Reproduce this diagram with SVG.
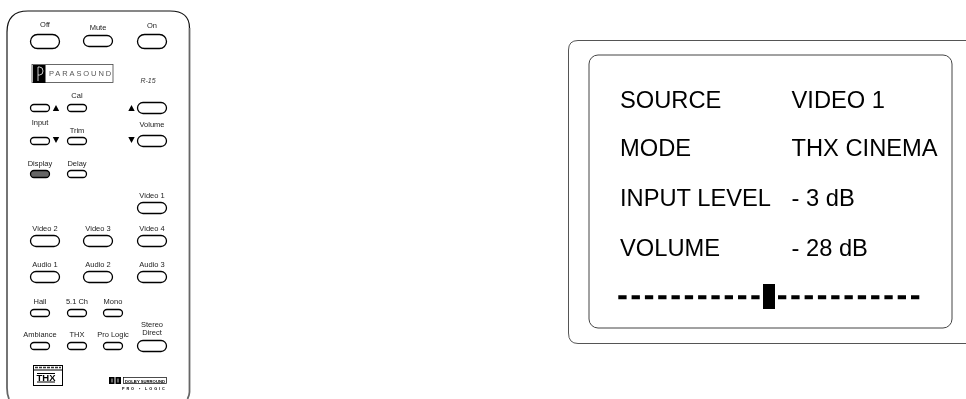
<svg xmlns="http://www.w3.org/2000/svg" width="966" height="399" viewBox="0 0 966 399">
<style>
.b{fill:#fff;stroke:#000;stroke-width:1.3}
.l{font:7.5px "Liberation Sans",Arial,sans-serif;fill:#222;text-anchor:middle}
.t{font:23.7px "Liberation Sans",Arial,sans-serif;fill:#000}
</style>
<defs>
<filter id="soft" x="0" y="0" width="966" height="399" filterUnits="userSpaceOnUse" color-interpolation-filters="sRGB"><feGaussianBlur stdDeviation=".3"/></filter>
<filter id="gray" x="0" y="0" width="966" height="399" filterUnits="userSpaceOnUse" color-interpolation-filters="sRGB"><feOffset dx="0" dy="0"/></filter>
</defs>
<rect width="966" height="399" fill="#fff"/>
<g id="remote" filter="url(#soft)">
<path fill="none" stroke="#666" stroke-width="1.800" d="M7 32V388Q7 394 9 399M189.500 28V392Q189.500 395 187.500 399"/>
<path fill="none" stroke="#111" stroke-width="1.200" d="M7 32Q7 11 28 11H170Q189.500 11 189.500 28"/>
<g id="power">
<rect class="b" x="30.500" y="34.500" width="29" height="14" rx="7"/><text class="l" x="45" y="27">Off</text>
<rect class="b" x="83.500" y="35.500" width="29" height="11" rx="5.500"/><text class="l" x="98" y="30">Mute</text>
<rect class="b" x="137.500" y="34.500" width="29" height="14" rx="7"/><text class="l" x="152" y="28">On</text>
</g>
<g id="logo">
<rect x="32" y="64.500" width="81" height="18" fill="#fff" stroke="#444" stroke-width=".8"/>
<rect x="33" y="65" width="12.500" height="18" fill="#000"/>
<path d="M38 67V81M38 67H39.500Q43 67 43 71T39.500 75H38" fill="none" stroke="#fff" stroke-width=".8"/>
<text x="49" y="76" font-family="Liberation Sans,Arial,sans-serif" font-size="7.500" letter-spacing="1.900" fill="#555">PARASOUND</text>
<text x="148" y="83" font-family="Liberation Sans,Arial,sans-serif" font-size="7" font-style="italic" text-anchor="middle" fill="#333">R-15</text>
</g>
<g id="input-trim">
<rect class="b" x="30.500" y="104.500" width="19" height="7" rx="3.500"/><path d="M56 105l3.200 6h-6.400zM56 143l3.200-6h-6.400z"/>
<text class="l" x="40" y="125">Input</text>
<rect class="b" x="30.500" y="137.500" width="19" height="7" rx="3.500"/>
<rect class="b" x="67.500" y="104.500" width="19" height="7" rx="3.500"/><text class="l" x="77" y="98">Cal</text>
<rect class="b" x="67.500" y="137.500" width="19" height="7" rx="3.500"/><text class="l" x="77" y="133">Trim</text>
</g>
<g id="volume">
<rect class="b" x="137.500" y="102.500" width="29" height="11" rx="5.500"/><path d="M131.500 105l3.200 6h-6.400zM131.500 143l3.200-6h-6.400z"/>
<text class="l" x="152" y="127">Volume</text>
<rect class="b" x="137.500" y="135.500" width="29" height="11" rx="5.500"/>
</g>
<g id="display-delay">
<rect x="30.500" y="170.500" width="19" height="7" rx="3.500" fill="#666" stroke="#000" stroke-width="1.300"/><text class="l" x="40" y="166">Display</text>
<rect class="b" x="67.500" y="170.500" width="19" height="7" rx="3.500"/><text class="l" x="77" y="166">Delay</text>
</g>
<g id="sources">
<rect class="b" x="137.500" y="202.500" width="29" height="11" rx="5.500"/><text class="l" x="152" y="198">Video 1</text>
<rect class="b" x="30.500" y="235.500" width="29" height="11" rx="5.500"/><text class="l" x="45" y="231">Video 2</text>
<rect class="b" x="83.500" y="235.500" width="29" height="11" rx="5.500"/><text class="l" x="98" y="231">Video 3</text>
<rect class="b" x="137.500" y="235.500" width="29" height="11" rx="5.500"/><text class="l" x="152" y="231">Video 4</text>
<rect class="b" x="30.500" y="271.500" width="29" height="11" rx="5.500"/><text class="l" x="45" y="267">Audio 1</text>
<rect class="b" x="83.500" y="271.500" width="29" height="11" rx="5.500"/><text class="l" x="98" y="267">Audio 2</text>
<rect class="b" x="137.500" y="271.500" width="29" height="11" rx="5.500"/><text class="l" x="152" y="267">Audio 3</text>
</g>
<g id="modes">
<rect class="b" x="30.500" y="309.500" width="19" height="7" rx="3.500"/><text class="l" x="40" y="304">Hall</text>
<rect class="b" x="67.500" y="309.500" width="19" height="7" rx="3.500"/><text class="l" x="77" y="304">5.1 Ch</text>
<rect class="b" x="103.500" y="309.500" width="19" height="7" rx="3.500"/><text class="l" x="113" y="304">Mono</text>
<rect class="b" x="30.500" y="342.500" width="19" height="7" rx="3.500"/><text class="l" x="40" y="337">Ambiance</text>
<rect class="b" x="67.500" y="342.500" width="19" height="7" rx="3.500"/><text class="l" x="77" y="337">THX</text>
<rect class="b" x="103.500" y="342.500" width="19" height="7" rx="3.500"/><text class="l" x="113" y="337">Pro Logic</text>
<rect class="b" x="137.500" y="340.500" width="29" height="11" rx="5.500"/><text class="l" x="152" y="327">Stereo</text><text class="l" x="152" y="335">Direct</text>
</g>
<g id="badges">
<rect x="33.500" y="365.500" width="29" height="20" fill="#fff" stroke="#000"/>
<path d="M33 370H63" stroke="#000"/><path d="M35 367.500H61" stroke="#333" stroke-width="1.500" stroke-dasharray="3 1"/>
<path d="M37 373.500H55M37 382H55" stroke="#000"/>
<text x="46" y="381" font-family="Liberation Sans,Arial,sans-serif" font-size="9.500" font-weight="bold" text-anchor="middle" fill="#000">THX</text>
<rect x="109" y="377" width="12" height="7" fill="#000"/><path d="M115 377V384" stroke="#fff"/><path d="M112 378.500V382.500M118 378.500V382.500" stroke="#fff" stroke-width=".8"/>
<rect x="123.500" y="377.500" width="43" height="6" fill="#fff" stroke="#000" stroke-width=".7"/>
<text x="145" y="382.500" font-family="Liberation Sans,Arial,sans-serif" font-size="4.200" font-weight="bold" text-anchor="middle" fill="#000">DOLBY SURROUND</text>
<text x="122" y="390" font-family="Liberation Sans,Arial,sans-serif" font-size="3.800" font-weight="bold" letter-spacing="1.900" fill="#000">PRO • LOGIC</text>
</g>
</g>
<g id="display" filter="url(#gray)">
<path fill="none" stroke="#555" stroke-width="1" d="M966 40.500H578Q568.500 40.500 568.500 50V333Q568.500 343.500 578 343.500H966"/>
<rect x="589" y="55" width="363" height="273" rx="9" fill="none" stroke="#444" stroke-width="1"/>
<text class="t" x="620" y="108">SOURCE</text><text class="t" x="791.500" y="108">VIDEO 1</text>
<text class="t" x="620" y="156">MODE</text><text class="t" x="791.500" y="156">THX CINEMA</text>
<text class="t" x="620" y="206">INPUT LEVEL</text><text class="t" x="791.500" y="206">- 3 dB</text>
<text class="t" x="620" y="256">VOLUME</text><text class="t" x="791.500" y="256">- 28 dB</text>
<path d="M618.300 297.300H760.500M778 297.300H920" stroke="#000" stroke-width="4" stroke-dasharray="8.300 5"/>
<rect x="763" y="284" width="12" height="25" fill="#000"/>
</g>
</svg>
